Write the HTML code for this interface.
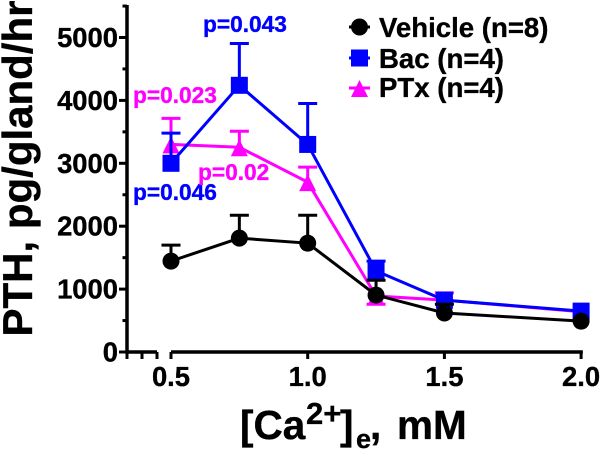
<!DOCTYPE html>
<html>
<head>
<meta charset="utf-8">
<style>
html,body{margin:0;padding:0;background:#fff;}
svg{display:block;}
text{font-family:"Liberation Sans",Arial,sans-serif;font-weight:bold;stroke-width:0.35;paint-order:stroke;}
</style>
</head>
<body>
<svg id="chart" width="600" height="454" viewBox="0 0 600 454">
  <text x="0" y="0" transform="translate(32,336.5) rotate(-90)" font-size="42" fill="#000" stroke="#000">PTH, pg/gland/hr</text>
  <text x="240" y="439" font-size="40.5" fill="#000" stroke="#000">[Ca<tspan x="306" font-size="31" dy="-15">2+</tspan><tspan x="340" dy="15">]</tspan><tspan x="356" font-size="27" dy="9">e</tspan><tspan x="370" dy="-9">,</tspan><tspan x="397">mM</tspan></text>

  <text x="133" y="103" font-size="22.7" fill="#ff00ff" stroke="#ff00ff">p=0.023</text>
  <text x="133" y="200" font-size="22.7" fill="#0000ff" stroke="#0000ff">p=0.046</text>
  <text x="203" y="32" font-size="22.7" fill="#0000ff" stroke="#0000ff">p=0.043</text>
  <text x="198" y="180" font-size="22.7" fill="#ff00ff" stroke="#ff00ff">p=0.02</text>

  <text x="379" y="37" font-size="27.6" fill="#000" stroke="#000">Vehicle (n=8)</text>
  <text x="379" y="68" font-size="27.6" fill="#000" stroke="#000">Bac (n=4)</text>
  <text x="379" y="97" font-size="27.6" fill="#000" stroke="#000">PTx (n=4)</text>
  <g id="axes"></g>
  <g id="series"></g>
  <g id="legend"></g>
</svg>
<script>
var categories = [0.5, 0.75, 1.0, 1.25, 1.5, 2.0];
var vehicleValues = [1445, 1810, 1730, 905, 620, 490];
var vehicleUpper = [1700, 2175, 2175, 1140, 760, 490];
var bacValues = [3000, 4240, 3300, 1290, 825, 650];
var bacUpper = [3480, 4905, 3950, 1445, 825, 650];
var ptxValues = [3300, 3255, 2700, 890, 825, 640];
var ptxUpper = [3715, 3510, 2940, 890, 940, 640];
var ptxLower = [3300, 3255, 2700, 760, 825, 640];
var yMajorTicks = [0, 1000, 2000, 3000, 4000, 5000];
var yMinorTicks = [500, 1500, 2500, 3500, 4500, 5500];
var xTicks = [0.5, 1.0, 1.5, 2.0];
var xTickLabels = ["0.5", "1.0", "1.5", "2.0"];

var NS = "http://www.w3.org/2000/svg";
function xScale(v) { return 171 + (v - 0.5) * 273.4; }
function yScale(v) { return 352 - v * 0.0629; }
function mk(tag, parent, attrs) {
  var el = document.createElementNS(NS, tag);
  for (var k in attrs) { el.setAttribute(k, attrs[k]); }
  parent.appendChild(el);
  return el;
}
var axes = document.getElementById("axes");
var seriesGroup = document.getElementById("series");
var legend = document.getElementById("legend");
var lineEl;
var labelEl;

lineEl = mk("line", axes, {x1: 127, x2: 127, y1: 5, y2: 353.75, stroke: "#000", "stroke-width": 3.5});


lineEl = mk("line", axes, {x1: 127, x2: 157, y1: 352, y2: 352, stroke: "#000", "stroke-width": 3.5});


lineEl = mk("line", axes, {x1: xScale(0.5), x2: xScale(2.0) + 1.75, y1: 352, y2: 352, stroke: "#000", "stroke-width": 3.5});



[127, 142, 157].forEach(function (px) {
  var t = mk("line", axes, {x1: px, x2: px, y1: 352, y2: 359, stroke: "#000", "stroke-width": 3});
  
  
});

yMajorTicks.forEach(function (v) {
  var t = mk("line", axes, {x1: 119, x2: 127, y1: yScale(v), y2: yScale(v), stroke: "#000", "stroke-width": 3});
  
  
  labelEl = mk("text", axes, {x: 118, y: yScale(v) + 9.5, "font-size": 27.4, "text-anchor": "end", fill: "#000", stroke: "#000"});
  
  
  labelEl.textContent = String(v);
});
yMinorTicks.forEach(function (v) {
  var t = mk("line", axes, {x1: 122.5, x2: 127, y1: yScale(v), y2: yScale(v), stroke: "#000", "stroke-width": 3});
  
  
});
xTicks.forEach(function (v, i) {
  var t = mk("line", axes, {x1: xScale(v), x2: xScale(v), y1: 352, y2: 359, stroke: "#000", "stroke-width": 3});
  
  
  labelEl = mk("text", axes, {x: xScale(v), y: 386, "font-size": 27.4, "text-anchor": "middle", fill: "#000", stroke: "#000"});
  
  
  labelEl.textContent = xTickLabels[i];
});

function marker(parent, kind, cx, cy, color) {
  var m;
  if (kind === "circle") {
    m = mk("circle", parent, {cx: cx, cy: cy, r: 8.5, fill: color});
  } else if (kind === "square") {
    m = mk("rect", parent, {x: cx - 8.5, y: cy - 8.5, width: 17, height: 17, fill: color});
  } else {
    m = mk("polygon", parent, {points: (cx) + "," + (cy - 8) + " " + (cx + 8.5) + "," + (cy + 9) + " " + (cx - 8.5) + "," + (cy + 9), fill: color});
  }
  return m;
}

function drawSeries(name, values, upper, lower, color, kind) {
  var g = mk("g", seriesGroup, {});
  
  
  categories.forEach(function (c, i) {
    var x = xScale(c);
    if (upper[i] !== values[i]) {
      var e = mk("path", g, {d: "M" + x + " " + yScale(values[i]) + "V" + yScale(upper[i]) + "M" + (x - 9.5) + " " + yScale(upper[i]) + "H" + (x + 9.5), stroke: color, "stroke-width": 3, fill: "none"});
      
      
    }
    if (lower && lower[i] !== values[i]) {
      var l = mk("path", g, {d: "M" + x + " " + yScale(values[i]) + "V" + yScale(lower[i]) + "M" + (x - 9.5) + " " + yScale(lower[i]) + "H" + (x + 9.5), stroke: color, "stroke-width": 3, fill: "none"});
      
      
    }
  });
  var pts = categories.map(function (c, i) { return xScale(c) + "," + yScale(values[i]); }).join(" ");
  var line = mk("polyline", g, {points: pts, fill: "none", stroke: color, "stroke-width": 3, "stroke-linejoin": "miter"});
  
  
  categories.forEach(function (c, i) {
    var m = marker(g, kind, xScale(c), yScale(values[i]), color);
    
    
  });
}

drawSeries("ptx", ptxValues, ptxUpper, ptxLower, "#ff00ff", "triangle");
drawSeries("bac", bacValues, bacUpper, null, "#0000ff", "square");
drawSeries("vehicle", vehicleValues, vehicleUpper, null, "#000000", "circle");

function legendKey(name, kind, y, color) {
  var l = mk("line", legend, {x1: 349, x2: 370, y1: y, y2: y, stroke: color, "stroke-width": 3});
  
  
  var m = marker(legend, kind, 359.5, y, color);
  
  
}
legendKey("vehicle", "circle", 27, "#000000");
legendKey("bac", "square", 58, "#0000ff");
legendKey("ptx", "triangle", 88, "#ff00ff");
</script>
</body>
</html>
